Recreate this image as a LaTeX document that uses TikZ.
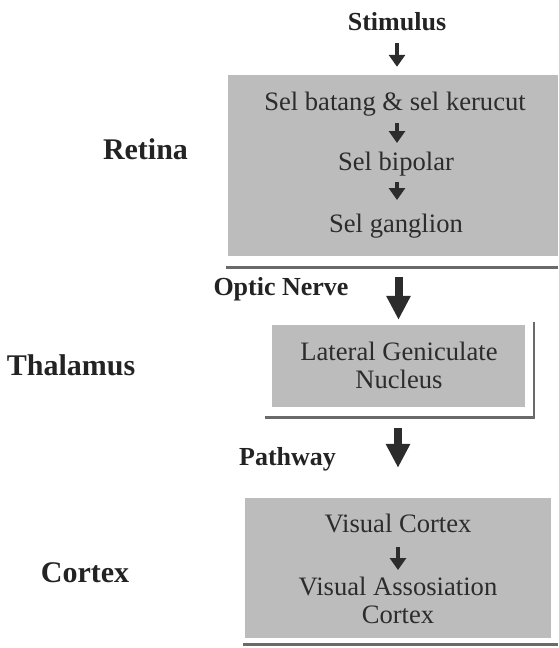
\documentclass[tikz,border=0pt]{standalone}
\usepackage{fontspec}
\setmainfont{Liberation Serif}
\usetikzlibrary{arrows.meta}
\definecolor{boxfill}{HTML}{BCBCBC}
\definecolor{ink}{HTML}{2C2C2C}
\definecolor{rulegray}{HTML}{6A6A6A}
\begin{document}
\begin{tikzpicture}[x=1pt,y=-1pt,
  panel/.style={fill=boxfill, draw=none, inner sep=0pt},
  txt/.style={anchor=base, inner sep=0pt, text=ink, font=\fontsize{26.6}{28}\selectfont},
  lbl/.style={anchor=base, inner sep=0pt, text=ink!80!black, font=\fontsize{26}{28}\selectfont\bfseries},
  biglbl/.style={anchor=base, inner sep=0pt, text=ink!80!black, font=\fontsize{30}{32}\selectfont\bfseries},
  smallarrow/.style={draw=ink, line width=4.5pt, -{Triangle[length=12pt,width=16pt]}},
  bigarrow/.style={draw=ink, line width=8pt, -{Triangle[length=24pt,width=23pt]}},
  shadowrule/.style={draw=rulegray, line width=3pt}
]
\useasboundingbox (0,0) rectangle (558,648);

% grey panels
\node[panel, minimum width=330pt, minimum height=181pt] (retina) at (393,165.5) {};
\node[panel, minimum width=253pt, minimum height=82pt] (lgn) at (398.5,366) {};
\node[panel, minimum width=306pt, minimum height=140pt] (cortex) at (398,568) {};

% rules under and beside the panels
\draw[shadowrule] (226,267) -- (558,267);
\draw[shadowrule] (265,417) -- (535,417);
\draw[draw=rulegray, line width=1.5pt] (534,322) -- (534,418);
\draw[shadowrule] (243,644.5) -- (558,644.5);

% side labels
\node[biglbl] (lretina) at (145.5,159) {Retina};
\node[biglbl] (lthal) at (71,375) {Thalamus};
\node[biglbl] (lcortex) at (85,582) {Cortex};

% flow labels
\node[lbl] (stim) at (397,30) {Stimulus};
\node[lbl] (optic) at (281,295) {Optic Nerve};
\node[lbl] (path) at (287.5,465) {Pathway};

% retina content
\node[txt] (sb) at (395,110) {Sel batang \& sel kerucut};
\node[txt] (bip) at (396,170) {Sel bipolar};
\node[txt] (gang) at (396,232) {Sel ganglion};

% thalamus content
\node[txt] (lg1) at (399,360) {Lateral Geniculate};
\node[txt] (lg2) at (399,388) {Nucleus};

% cortex content
\node[txt] (vc) at (398,532) {Visual Cortex};
\node[txt] (va1) at (398,595) {Visual Assosiation};
\node[txt] (va2) at (398,623) {Cortex};

% arrows
\draw[smallarrow, shorten <=13pt, shorten >=8pt] (stim.base) -- (stim.base |- retina.north);
\draw[smallarrow, shorten <=13pt, shorten >=27pt] (stim.base |- sb.base) -- (stim.base |- bip.base);
\draw[smallarrow, shorten <=12pt, shorten >=32pt] (stim.base |- bip.base) -- (stim.base |- gang.base);
\draw[bigarrow, shorten <=21pt, shorten >=5pt] (lgn.north |- retina.south) -- (lgn.north);
\draw[bigarrow, shorten <=21pt, shorten >=30pt] (cortex.north |- lgn.south) -- (cortex.north);
\draw[smallarrow, shorten <=15pt, shorten >=25pt] (vc.base) -- (va1.base);
\end{tikzpicture}
\end{document}
